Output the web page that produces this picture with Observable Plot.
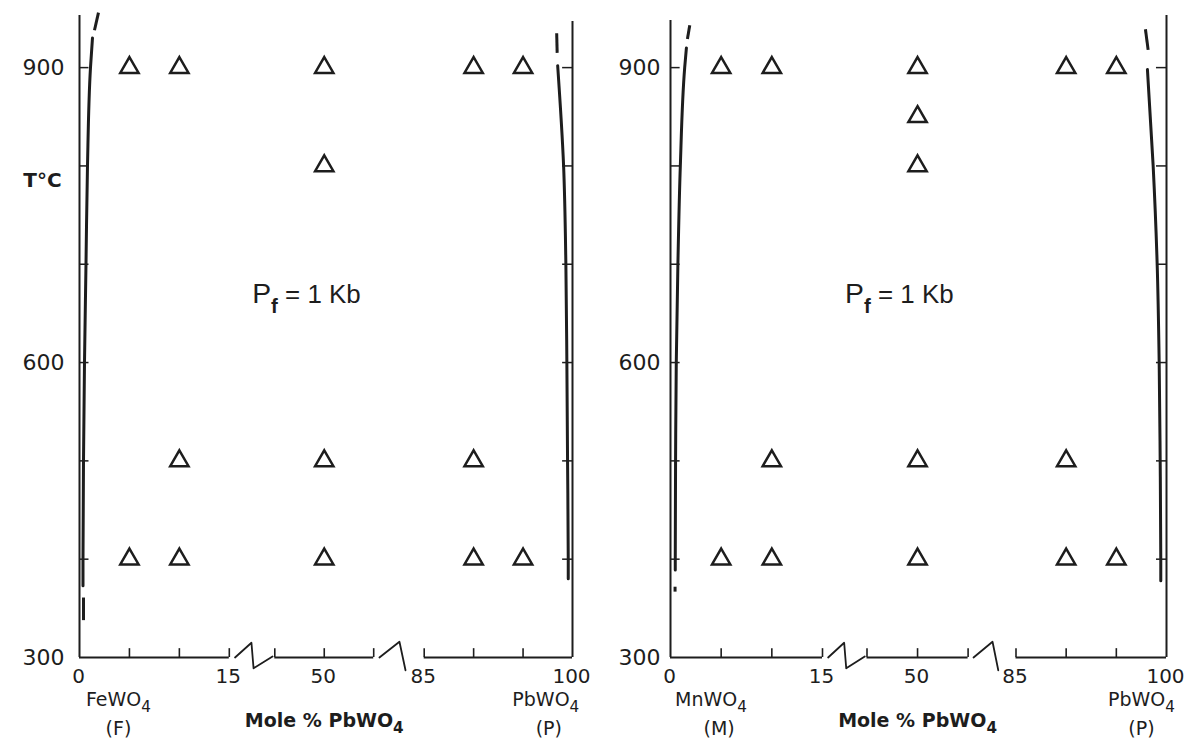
<!DOCTYPE html>
<html>
<head>
<meta charset="utf-8">
<script src="https://cdn.jsdelivr.net/npm/d3@7"></script>
<script src="https://cdn.jsdelivr.net/npm/@observablehq/plot@0.6"></script>
<style>
  body { margin: 0; background: #ffffff; }
  #wrap { display: flex; width: 1197px; height: 747px; overflow: hidden; }
</style>
</head>
<body>
<div id="wrap"></div>
<script>
// ---------- data (mole % PbWO4, temperature °C) ----------
const tempTicks = [400, 500, 600, 700, 800, 900];
const tempLabels = [300, 600, 900];
const xTickValues = [5, 10, 15, 45, 50, 55, 85, 90, 95];
const xTickLabels = [0, 15, 50, 85, 100];
const xBreakDomain = [0, 15, 45, 55, 85, 100];
const axisSegments = [[0, 15], [45, 55], [85, 100]];
const breakLeft = [[18.8, 300], [29.6, 315], [31, 289], [43.5, 301]];
const breakRight = [[58.4, 300], [70.3, 316], [73.9, 287]];

// experimental runs (triangles)
const feRuns = [[5, 900], [10, 900], [50, 900], [90, 900], [95, 900], [50, 800],
  [10, 500], [50, 500], [90, 500], [5, 400], [10, 400], [50, 400], [90, 400], [95, 400]];
const mnRuns = [[5, 900], [10, 900], [50, 900], [90, 900], [95, 900], [50, 850], [50, 800],
  [10, 500], [50, 500], [90, 500], [5, 400], [10, 400], [50, 400], [90, 400], [95, 400]];

// solvus curves
const feLeftSolvus = [[0.35, 373], [0.35, 400], [0.4, 500], [0.5, 600], [0.65, 700], [0.8, 800], [1.1, 900], [1.3, 930]];
const feLeftDashes = [[1.5, 938, 1.9, 956], [0.4, 338, 0.4, 361]];
const feRightSolvus = [[99.57, 380], [99.57, 400], [99.5, 500], [99.43, 600], [99.33, 700], [99.1, 800], [98.5, 902]];
const feRightDashes = [[98.45, 915, 98.4, 935]];

const mnLeftSolvus = [[0.47, 389], [0.47, 400], [0.5, 500], [0.57, 600], [0.73, 700], [0.97, 800], [1.4, 900], [1.57, 920]];
const mnLeftDashes = [[1.67, 929, 1.9, 943], [0.45, 367, 0.45, 372]];
const mnRightSolvus = [[99.43, 378], [99.43, 400], [99.37, 500], [99.27, 600], [99.07, 700], [98.67, 800], [98.1, 898]];
const mnRightDashes = [[98.17, 918, 97.9, 939]];

// labels
const feEndLabels = [["FeWO_4", 3.9], ["PbWO_4", 97.3]];
const feCodeLabels = [["(F)", 3.9], ["(P)", 97.6]];
const mnEndLabels = [["MnWO_4", 4.0], ["PbWO_4", 97.5]];
const mnCodeLabels = [["(M)", 4.8], ["(P)", 97.5]];
const axisTitle = "Mole % PbWO_4";
const pressureLabel = "P_f = 1 Kb";
const tempTitle = "T°C";

const ink = "#1d1d1d";

function panel(o) {
  const marks = [
    // axes
    Plot.ruleY(axisSegments, {x1: d => d[0], x2: d => d[1], y: 300, stroke: ink, strokeWidth: 2}),
    Plot.ruleX(o.axisTops, {x: d => d[0], y1: 300, y2: d => d[1], stroke: ink, strokeWidth: 2}),
    Plot.ruleX(xTickValues, {x: d => d, y1: 300, y2: 309, stroke: ink, strokeWidth: 1.6}),
    Plot.ruleY(tempTicks, {y: d => d, x1: 0, x2: 0.95, stroke: ink, strokeWidth: 1.5}),
    Plot.ruleY(tempTicks, {y: d => d, x1: 99.0, x2: 100, stroke: ink, strokeWidth: 1.5}),
    Plot.line(breakLeft, {x: d => d[0], y: d => d[1], stroke: ink, strokeWidth: 1.8}),
    Plot.line(breakRight, {x: d => d[0], y: d => d[1], stroke: ink, strokeWidth: 1.8}),
    // solvus
    Plot.line(o.leftSolvus, {x: d => d[0], y: d => d[1], curve: "monotone-y", stroke: ink, strokeWidth: 3}),
    Plot.line(o.rightSolvus, {x: d => d[0], y: d => d[1], curve: "monotone-y", stroke: ink, strokeWidth: 3}),
    Plot.link(o.dashes, {x1: d => d[0], y1: d => d[1], x2: d => d[2], y2: d => d[3], stroke: ink, strokeWidth: 3}),
    // runs
    Plot.dot(o.runs, {x: d => d[0], y: d => d[1], symbol: "triangle", r: 6.8, fill: "none", stroke: ink, strokeWidth: 2.5}),
    // tick labels
    Plot.text(xTickLabels, {x: d => d, y: 300, dy: 19, text: d => String(d), fontSize: 20, fill: ink, dx: -1}),
    Plot.text(tempLabels, {x: 0, y: d => d, dx: o.yLabelDx, textAnchor: "end", text: d => String(d), fontSize: 22, fill: ink}),
    // bottom labels
    Plot.text(o.endLabels, {x: d => d[1], y: 300, dy: 42, text: d => d[0], fontSize: 19, fill: ink}),
    Plot.text(o.codeLabels, {x: d => d[1], y: 300, dy: 71, text: d => d[0], fontSize: 19, fill: ink}),
    Plot.text([axisTitle], {x: 50, y: 300, dy: 63, text: d => d, fontSize: 19, fontWeight: "bold", fill: ink}),
    Plot.text([pressureLabel], {x: 48.2, y: 668, text: d => d, fontSize: 24, fill: ink, fontFamily: "Liberation Sans"})
  ];
  if (o.showT) {
    marks.push(Plot.text([tempTitle], {x: 0, y: 785, dx: -37, text: d => d, fontSize: 20, fontWeight: "bold", fill: ink}));
  }
  return Plot.plot({
    width: o.width,
    height: 747,
    marginTop: 15, marginBottom: 90, marginLeft: 0, marginRight: 0,
    style: {fontFamily: "DejaVu Sans", background: "#ffffff", overflow: "visible"},
    x: {type: "linear", domain: xBreakDomain, range: o.xRange, axis: null},
    y: {type: "linear", domain: [300, 953], range: [657, 15], axis: null},
    marks
  });
}

function subfix(svg) {
  d3.select(svg).selectAll("text").each(function () {
    const s = this.textContent;
    const i = s.indexOf("_");
    if (i < 0) return;
    const fs = parseFloat(getComputedStyle(this).fontSize) || 19;
    const sel = d3.select(this);
    sel.text(null);
    const subChar = s[i + 1];
    const rest = s.slice(i + 2);
    const head = sel.append("tspan").text(s.slice(0, i));
    if (subChar === "f") {
      head.attr("font-size", (fs * 1.18) + "px");
      sel.append("tspan").attr("dy", (fs * 0.38) + "px").attr("font-size", (fs * 0.85) + "px")
        .attr("font-weight", "bold").text(subChar);
      sel.append("tspan").attr("dy", (-fs * 0.38) + "px").attr("font-size", (fs * 1.08) + "px").text(rest);
    } else {
      sel.append("tspan").attr("dy", (fs * 0.32) + "px").attr("font-size", (fs * 0.8) + "px").text(subChar);
      if (rest) sel.append("tspan").attr("dy", (-fs * 0.32) + "px").text(rest);
    }
  });
}

const wrap = document.getElementById("wrap");
const left = panel({
  width: 598, xRange: [79, 228.8, 274.3, 373.2, 423.7, 572], yLabelDx: -15,
  runs: feRuns, leftSolvus: feLeftSolvus, rightSolvus: feRightSolvus,
  dashes: feLeftDashes.concat(feRightDashes),
  endLabels: feEndLabels, codeLabels: feCodeLabels, showT: true,
  axisTops: [[0, 953], [100, 947]]
});
const right = panel({
  width: 599, xRange: [72, 224, 268.5, 369.6, 417.5, 568], yLabelDx: -10,
  runs: mnRuns, leftSolvus: mnLeftSolvus, rightSolvus: mnRightSolvus,
  dashes: mnLeftDashes.concat(mnRightDashes),
  endLabels: mnEndLabels, codeLabels: mnCodeLabels, showT: false,
  axisTops: [[0, 948], [100, 953]]
});
wrap.appendChild(left);
wrap.appendChild(right);
subfix(left);
subfix(right);
</script>
</body>
</html>
